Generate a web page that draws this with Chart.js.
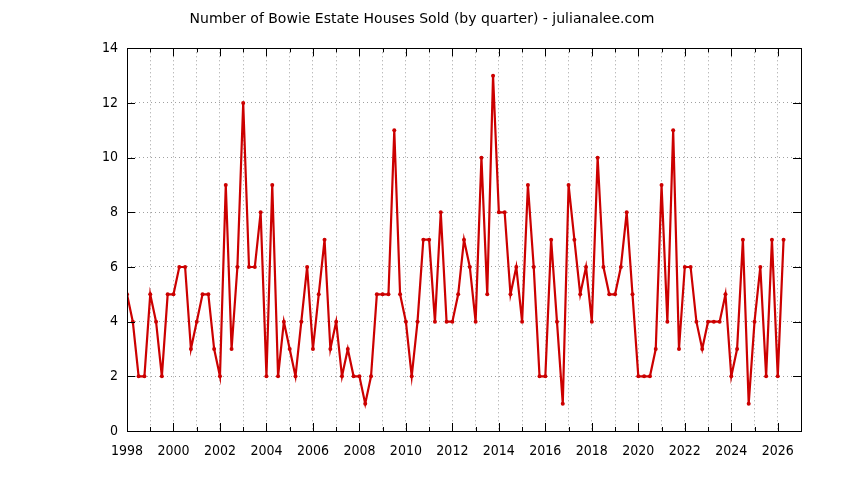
<!DOCTYPE html>
<html>
<head>
<meta charset="utf-8">
<script src="https://cdn.jsdelivr.net/npm/chart.js@4.4.1/dist/chart.umd.min.js"></script>
<style>
  html, body { margin: 0; padding: 0; background: #fff; }
  #chart { display: block; }
</style>
</head>
<body>
<canvas id="chart" width="844" height="480"></canvas>
<script>
// Quarterly sales, starting 1998 Q1
const firstYear = 1998
const lastYear = 2027
const soldPerQuarter = [
  5, 4, 2, 2,    // 1998
  5, 4, 2, 5,    // 1999
  5, 6, 6, 3,    // 2000
  4, 5, 5, 3,    // 2001
  2, 9, 3, 6,    // 2002
  12, 6, 6, 8,   // 2003
  2, 9, 2, 4,    // 2004
  3, 2, 4, 6,    // 2005
  3, 5, 7, 3,    // 2006
  4, 2, 3, 2,    // 2007
  2, 1, 2, 5,    // 2008
  5, 5, 11, 5,   // 2009
  4, 2, 4, 7,    // 2010
  7, 4, 8, 4,    // 2011
  4, 5, 7, 6,    // 2012
  4, 10, 5, 13,  // 2013
  8, 8, 5, 6,    // 2014
  4, 9, 6, 2,    // 2015
  2, 7, 4, 1,    // 2016
  9, 7, 5, 6,    // 2017
  4, 10, 6, 5,   // 2018
  5, 6, 8, 5,    // 2019
  2, 2, 2, 3,    // 2020
  9, 4, 11, 3,   // 2021
  6, 6, 4, 3,    // 2022
  4, 4, 4, 5,    // 2023
  2, 3, 7, 1,    // 2024
  4, 6, 2, 7,    // 2025
  2, 7           // 2026
]
const yTicks = [0, 2, 4, 6, 8, 10, 12, 14]
const chartTitle = 'Number of Bowie Estate Houses Sold (by quarter) - julianalee.com'

const fontFamily = '"DejaVu Sans", Verdana, sans-serif'
const tickFamily = '"DejaVu Sans Condensed", "DejaVu Sans", Verdana, sans-serif'

// x position of each quarter
const points = soldPerQuarter.map((v, i) => ({ x: firstYear + i / 4, y: v }))

// Draws the black frame plus inward tick marks on all four sides
const framePlugin = {
  id: 'frame',
  afterDraw(chart) {
    const { ctx, chartArea: a, scales } = chart
    ctx.save()
    ctx.strokeStyle = '#000'
    ctx.lineWidth = 1
    ctx.beginPath()
    for (let yr = firstYear; yr <= lastYear; yr++) {
      const px = Math.round(scales.x.getPixelForValue(yr)) + 0.5
      const len = yr % 2 === 0 ? 8 : 4
      ctx.moveTo(px, a.bottom); ctx.lineTo(px, a.bottom - len)
      ctx.moveTo(px, a.top); ctx.lineTo(px, a.top + len)
    }
    for (const t of yTicks) {
      const py = Math.round(scales.y.getPixelForValue(t)) + 0.5
      ctx.moveTo(a.left, py); ctx.lineTo(a.left + 8, py)
      ctx.moveTo(a.right, py); ctx.lineTo(a.right - 8, py)
    }
    ctx.stroke()
    ctx.strokeRect(Math.round(a.left) + 0.5, Math.round(a.top) + 0.5,
      Math.round(a.right - a.left), Math.round(a.bottom - a.top))
    ctx.restore()
  }
}

new Chart(document.getElementById('chart'), {
  type: 'line',
  data: {
    datasets: [{
      data: points,
      borderColor: '#cc0000',
      backgroundColor: '#cc0000',
      borderWidth: 2.2,
      pointRadius: 2,
      pointBorderWidth: 0,
      pointHoverRadius: 2,
      tension: 0
    }]
  },
  options: {
    responsive: false,
    animation: false,
    devicePixelRatio: 1,
    layout: { padding: 0 },
    plugins: {
      legend: { display: false },
      tooltip: { enabled: false },
      title: {
        display: true,
        text: chartTitle,
        color: '#000',
        font: { family: fontFamily, size: 14, weight: 'normal' },
        padding: { top: 11, bottom: 20.5 }
      }
    },
    scales: {
      x: {
        type: 'linear',
        min: firstYear,
        max: lastYear,
        afterFit: s => { s.height = 49 },
        ticks: {
          stepSize: 1,
          autoSkip: false,
          maxRotation: 0,
          padding: 12,
          color: '#000',
          font: { family: tickFamily, size: 14 },
          callback: v => (v % 2 === 0 && v < lastYear) ? String(v) : ''
        },
        grid: { color: '#a0a0a0', lineWidth: 1, drawTicks: false },
        border: { display: false, dash: [1, 3] }
      },
      y: {
        min: 0,
        max: 14,
        afterFit: s => { s.width = 127 },
        ticks: {
          stepSize: 2,
          padding: 9,
          color: '#000',
          font: { family: tickFamily, size: 14 }
        },
        grid: { color: '#a0a0a0', lineWidth: 1, drawTicks: false },
        border: { display: false, dash: [1, 3] }
      },
      // empty right-hand axis, only there to keep the right margin
      yRight: {
        position: 'right',
        min: 0,
        max: 14,
        afterFit: s => { s.width = 43 },
        ticks: { display: false },
        grid: { display: false, drawTicks: false },
        border: { display: false }
      }
    }
  },
  plugins: [framePlugin]
})
</script>
</body>
</html>
